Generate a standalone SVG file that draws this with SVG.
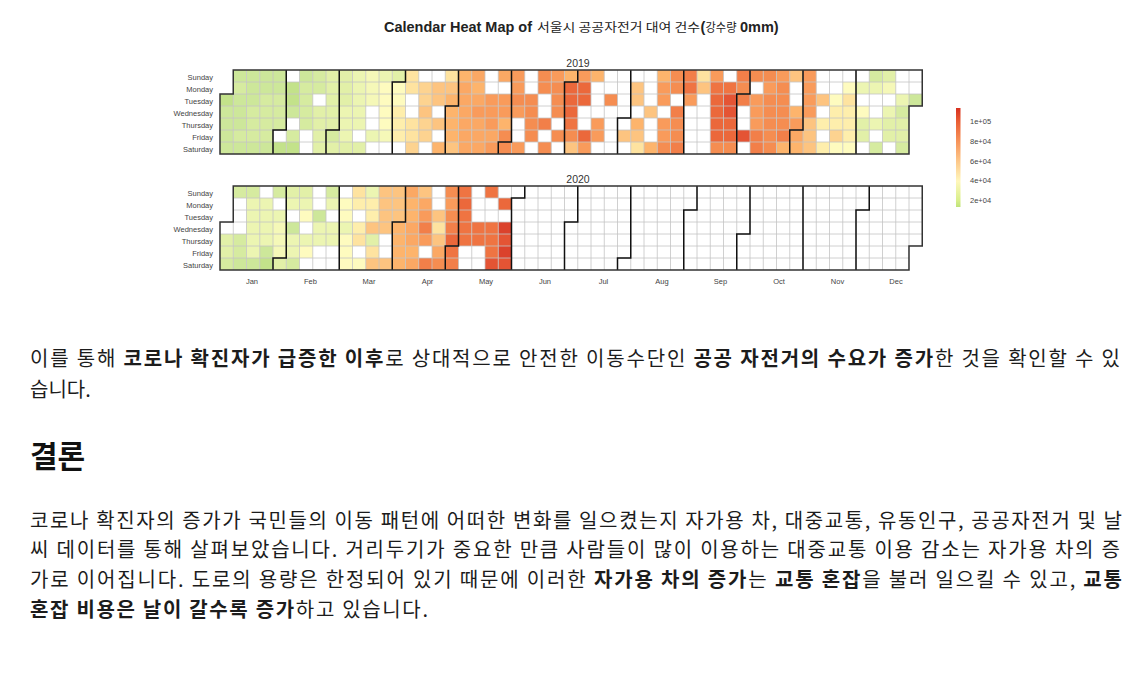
<svg xmlns="http://www.w3.org/2000/svg" width="1134" height="677" viewBox="0 0 1134 677">
<style>
.lbl{font-family:'Liberation Sans',Arial,sans-serif;font-size:7.5px;fill:#444}
.yr{font-family:'Liberation Sans',Arial,sans-serif;font-size:10.5px;fill:#333;text-anchor:middle}
.grid{fill:none;stroke:#c4c4c4;stroke-width:0.8}
.mon{fill:none;stroke:#111;stroke-width:1.5}
.outl{fill:none;stroke:#333;stroke-width:1.5}
.body{font-family:'Noto Sans CJK KR','Noto Sans',sans-serif;font-size:20px;fill:#1c1c1c}
.b{font-weight:bold}
.tl{font-family:'Liberation Sans',Arial,sans-serif;font-size:14.5px;font-weight:bold;fill:#222}
.tk{font-family:'Noto Sans CJK KR',sans-serif;font-size:12px;fill:#222}
</style>
<defs>
<rect id="a" width="13.25" height="12" fill="#c3e28a"/>
<rect id="b" width="13.25" height="12" fill="#cde79a"/>
<rect id="c" width="13.25" height="12" fill="#d6eba0"/>
<rect id="d" width="13.25" height="12" fill="#e2f0a8"/>
<rect id="e" width="13.25" height="12" fill="#ecf5b2"/>
<rect id="f" width="13.25" height="12" fill="#f5f8b8"/>
<rect id="g" width="13.25" height="12" fill="#fefbbf"/>
<rect id="h" width="13.25" height="12" fill="#feeeac"/>
<rect id="i" width="13.25" height="12" fill="#fee3a0"/>
<rect id="j" width="13.25" height="12" fill="#fdd390"/>
<rect id="k" width="13.25" height="12" fill="#fdc480"/>
<rect id="l" width="13.25" height="12" fill="#fdb46c"/>
<rect id="m" width="13.25" height="12" fill="#fba864"/>
<rect id="n" width="13.25" height="12" fill="#f99b5b"/>
<rect id="o" width="13.25" height="12" fill="#f58d51"/>
<rect id="p" width="13.25" height="12" fill="#f27f49"/>
<rect id="q" width="13.25" height="12" fill="#ef7442"/>
<rect id="r" width="13.25" height="12" fill="#eb683b"/>
<rect id="s" width="13.25" height="12" fill="#e45434"/>
<rect id="t" width="13.25" height="12" fill="#db422c"/>
<path id="gridpath" d="M233.25 0V84M246.5 0V84M259.75 0V84M273 0V84M286.25 0V84M299.5 0V84M312.75 0V84M326 0V84M339.25 0V84M352.5 0V84M365.75 0V84M379 0V84M392.25 0V84M405.5 0V84M418.75 0V84M432 0V84M445.25 0V84M458.5 0V84M471.75 0V84M485 0V84M498.25 0V84M511.5 0V84M524.75 0V84M538 0V84M551.25 0V84M564.5 0V84M577.75 0V84M591 0V84M604.25 0V84M617.5 0V84M630.75 0V84M644 0V84M657.25 0V84M670.5 0V84M683.75 0V84M697 0V84M710.25 0V84M723.5 0V84M736.75 0V84M750 0V84M763.25 0V84M776.5 0V84M789.75 0V84M803 0V84M816.25 0V84M829.5 0V84M842.75 0V84M856 0V84M869.25 0V84M882.5 0V84M895.75 0V84M909 0V84M220 12H922.25M220 24H922.25M220 36H922.25M220 48H922.25M220 60H922.25M220 72H922.25"/>
<clipPath id="clip19"><path d="M220 24H233.25V0H922.25V36H909V84H220Z"/></clipPath>
<clipPath id="clip20"><path d="M220 36H233.25V0H922.25V60H909V84H220Z"/></clipPath>
<linearGradient id="leg" x1="0" y1="0" x2="0" y2="1">
<stop offset="0" stop-color="#d7301f"/>
<stop offset="0.14" stop-color="#ea5f35"/>
<stop offset="0.34" stop-color="#f7945a"/>
<stop offset="0.54" stop-color="#fdc88a"/>
<stop offset="0.74" stop-color="#fff7bc"/>
<stop offset="0.93" stop-color="#d9ef8b"/>
<stop offset="1" stop-color="#bfe37a"/>
</linearGradient>
</defs>
<rect width="1134" height="677" fill="#fff"/>

<g id="title">
<text class="tl" x="384" y="31.7" textLength="148" lengthAdjust="spacingAndGlyphs">Calendar Heat Map of</text>
<text class="tk" x="537" y="31.7" textLength="163" lengthAdjust="spacingAndGlyphs">서울시 공공자전거 대여 건수</text>
<text class="tl" x="700.5" y="31.7">(</text>
<text class="tk" x="705.5" y="31.7" textLength="31" lengthAdjust="spacingAndGlyphs">강수량</text>
<text class="tl" x="740" y="31.7">0mm)</text>
</g>

<g id="year2019">
<text class="yr" x="578" y="66.7">2019</text>
<g class="lbl" text-anchor="end">
<text x="213" y="80">Sunday</text><text x="213" y="92">Monday</text><text x="213" y="104">Tuesday</text><text x="213" y="116">Wednesday</text><text x="213" y="128">Thursday</text><text x="213" y="140">Friday</text><text x="213" y="152">Saturday</text>
</g>
<g transform="translate(0 70)">
<path d="M220 24H233.25V0H922.25V36H909V84H220Z" fill="#fff"/>
<use href="#a" x="220" y="24"/><use href="#b" x="220" y="36"/><use href="#b" x="220" y="48"/><use href="#b" x="220" y="60"/><use href="#b" x="220" y="72"/>
<use href="#b" x="233.25" y="0"/><use href="#c" x="233.25" y="12"/><use href="#b" x="233.25" y="24"/><use href="#b" x="233.25" y="36"/><use href="#b" x="233.25" y="48"/><use href="#c" x="233.25" y="60"/><use href="#b" x="233.25" y="72"/>
<use href="#b" x="246.5" y="0"/><use href="#b" x="246.5" y="12"/><use href="#b" x="246.5" y="24"/><use href="#c" x="246.5" y="36"/><use href="#c" x="246.5" y="48"/><use href="#c" x="246.5" y="60"/><use href="#b" x="246.5" y="72"/>
<use href="#b" x="259.75" y="0"/><use href="#b" x="259.75" y="12"/><use href="#c" x="259.75" y="24"/><use href="#c" x="259.75" y="36"/><use href="#c" x="259.75" y="48"/><use href="#c" x="259.75" y="60"/><use href="#b" x="259.75" y="72"/>
<use href="#b" x="273" y="0"/><use href="#b" x="273" y="12"/><use href="#c" x="273" y="24"/><use href="#c" x="273" y="36"/><use href="#c" x="273" y="48"/><use href="#a" x="273" y="72"/>
<use href="#a" x="286.25" y="12"/><use href="#a" x="286.25" y="24"/><use href="#b" x="286.25" y="36"/><use href="#c" x="286.25" y="60"/><use href="#a" x="286.25" y="72"/>
<use href="#b" x="299.5" y="0"/><use href="#c" x="299.5" y="12"/><use href="#c" x="299.5" y="24"/><use href="#c" x="299.5" y="36"/><use href="#c" x="299.5" y="48"/>
<use href="#c" x="312.75" y="0"/><use href="#c" x="312.75" y="12"/><use href="#d" x="312.75" y="36"/><use href="#d" x="312.75" y="48"/><use href="#d" x="312.75" y="60"/><use href="#d" x="312.75" y="72"/>
<use href="#d" x="326" y="0"/><use href="#d" x="326" y="12"/><use href="#d" x="326" y="24"/><use href="#d" x="326" y="36"/><use href="#d" x="326" y="48"/><use href="#c" x="326" y="60"/><use href="#d" x="326" y="72"/>
<use href="#d" x="339.25" y="0"/><use href="#d" x="339.25" y="12"/><use href="#d" x="339.25" y="24"/><use href="#e" x="339.25" y="36"/><use href="#e" x="339.25" y="48"/><use href="#e" x="339.25" y="60"/><use href="#d" x="339.25" y="72"/>
<use href="#e" x="352.5" y="0"/><use href="#e" x="352.5" y="12"/><use href="#e" x="352.5" y="24"/><use href="#e" x="352.5" y="36"/><use href="#e" x="352.5" y="48"/><use href="#d" x="352.5" y="72"/>
<use href="#f" x="365.75" y="0"/><use href="#f" x="365.75" y="12"/><use href="#f" x="365.75" y="24"/><use href="#e" x="365.75" y="60"/>
<use href="#e" x="379" y="0"/><use href="#g" x="379" y="12"/><use href="#g" x="379" y="24"/><use href="#g" x="379" y="36"/><use href="#g" x="379" y="48"/><use href="#f" x="379" y="60"/>
<use href="#d" x="392.25" y="0"/><use href="#g" x="392.25" y="12"/><use href="#g" x="392.25" y="24"/><use href="#h" x="392.25" y="36"/><use href="#h" x="392.25" y="48"/><use href="#h" x="392.25" y="60"/>
<use href="#i" x="405.5" y="0"/><use href="#i" x="405.5" y="12"/><use href="#i" x="405.5" y="48"/><use href="#i" x="405.5" y="60"/><use href="#j" x="405.5" y="72"/>
<use href="#j" x="418.75" y="12"/><use href="#j" x="418.75" y="24"/><use href="#k" x="418.75" y="36"/><use href="#j" x="418.75" y="48"/><use href="#j" x="418.75" y="60"/>
<use href="#k" x="432" y="12"/><use href="#k" x="432" y="24"/><use href="#k" x="432" y="48"/><use href="#l" x="432" y="72"/>
<use href="#i" x="445.25" y="0"/><use href="#k" x="445.25" y="12"/><use href="#l" x="445.25" y="24"/><use href="#l" x="445.25" y="36"/><use href="#l" x="445.25" y="48"/><use href="#l" x="445.25" y="60"/><use href="#k" x="445.25" y="72"/>
<use href="#l" x="458.5" y="0"/><use href="#m" x="458.5" y="12"/><use href="#m" x="458.5" y="24"/><use href="#m" x="458.5" y="36"/><use href="#m" x="458.5" y="48"/><use href="#m" x="458.5" y="60"/><use href="#m" x="458.5" y="72"/>
<use href="#m" x="471.75" y="0"/><use href="#l" x="471.75" y="12"/><use href="#m" x="471.75" y="24"/><use href="#n" x="471.75" y="36"/><use href="#m" x="471.75" y="48"/><use href="#m" x="471.75" y="60"/><use href="#m" x="471.75" y="72"/>
<use href="#n" x="485" y="24"/><use href="#n" x="485" y="36"/><use href="#n" x="485" y="48"/><use href="#m" x="485" y="60"/><use href="#n" x="485" y="72"/>
<use href="#m" x="498.25" y="0"/><use href="#n" x="498.25" y="24"/><use href="#n" x="498.25" y="36"/><use href="#l" x="498.25" y="48"/><use href="#o" x="498.25" y="60"/><use href="#o" x="498.25" y="72"/>
<use href="#n" x="511.5" y="0"/><use href="#n" x="511.5" y="12"/><use href="#o" x="511.5" y="24"/><use href="#n" x="511.5" y="36"/><use href="#n" x="511.5" y="72"/>
<use href="#o" x="524.75" y="24"/><use href="#o" x="524.75" y="36"/><use href="#o" x="524.75" y="48"/><use href="#o" x="524.75" y="60"/>
<use href="#o" x="538" y="0"/><use href="#o" x="538" y="12"/><use href="#p" x="538" y="48"/><use href="#o" x="538" y="72"/>
<use href="#n" x="551.25" y="0"/><use href="#o" x="551.25" y="12"/><use href="#o" x="551.25" y="24"/><use href="#o" x="551.25" y="36"/><use href="#o" x="551.25" y="60"/>
<use href="#l" x="564.5" y="0"/><use href="#r" x="564.5" y="12"/><use href="#r" x="564.5" y="24"/><use href="#r" x="564.5" y="36"/><use href="#q" x="564.5" y="48"/><use href="#o" x="564.5" y="60"/><use href="#k" x="564.5" y="72"/>
<use href="#n" x="577.75" y="0"/><use href="#r" x="577.75" y="12"/><use href="#r" x="577.75" y="24"/><use href="#r" x="577.75" y="60"/><use href="#n" x="577.75" y="72"/>
<use href="#l" x="591" y="0"/><use href="#n" x="591" y="48"/><use href="#n" x="591" y="60"/>
<use href="#o" x="604.25" y="24"/>
<use href="#k" x="617.5" y="60"/>
<use href="#k" x="630.75" y="12"/><use href="#k" x="630.75" y="24"/><use href="#l" x="630.75" y="48"/><use href="#k" x="630.75" y="60"/><use href="#i" x="630.75" y="72"/>
<use href="#k" x="644" y="36"/><use href="#l" x="644" y="72"/>
<use href="#l" x="657.25" y="0"/><use href="#n" x="657.25" y="12"/><use href="#n" x="657.25" y="24"/><use href="#n" x="657.25" y="48"/><use href="#n" x="657.25" y="60"/><use href="#o" x="657.25" y="72"/>
<use href="#o" x="670.5" y="0"/><use href="#o" x="670.5" y="12"/><use href="#p" x="670.5" y="36"/><use href="#o" x="670.5" y="48"/><use href="#o" x="670.5" y="60"/><use href="#p" x="670.5" y="72"/>
<use href="#p" x="683.75" y="0"/><use href="#q" x="683.75" y="12"/><use href="#n" x="683.75" y="24"/>
<use href="#i" x="697" y="0"/><use href="#k" x="697" y="12"/>
<use href="#n" x="710.25" y="0"/><use href="#q" x="710.25" y="12"/><use href="#r" x="710.25" y="24"/><use href="#r" x="710.25" y="36"/><use href="#r" x="710.25" y="48"/><use href="#r" x="710.25" y="60"/><use href="#o" x="710.25" y="72"/>
<use href="#q" x="723.5" y="12"/><use href="#s" x="723.5" y="24"/><use href="#s" x="723.5" y="36"/><use href="#r" x="723.5" y="48"/><use href="#r" x="723.5" y="60"/><use href="#o" x="723.5" y="72"/>
<use href="#p" x="736.75" y="0"/><use href="#o" x="736.75" y="12"/><use href="#p" x="736.75" y="24"/><use href="#s" x="736.75" y="60"/>
<use href="#o" x="750" y="0"/><use href="#n" x="750" y="24"/><use href="#n" x="750" y="36"/><use href="#n" x="750" y="48"/><use href="#p" x="750" y="60"/><use href="#p" x="750" y="72"/>
<use href="#o" x="763.25" y="0"/><use href="#n" x="763.25" y="12"/><use href="#o" x="763.25" y="24"/><use href="#o" x="763.25" y="36"/><use href="#o" x="763.25" y="48"/><use href="#o" x="763.25" y="60"/><use href="#o" x="763.25" y="72"/>
<use href="#n" x="776.5" y="0"/><use href="#o" x="776.5" y="12"/><use href="#o" x="776.5" y="24"/><use href="#o" x="776.5" y="36"/><use href="#o" x="776.5" y="48"/><use href="#p" x="776.5" y="60"/><use href="#l" x="776.5" y="72"/>
<use href="#k" x="789.75" y="0"/><use href="#l" x="789.75" y="36"/><use href="#n" x="789.75" y="48"/><use href="#m" x="789.75" y="60"/><use href="#l" x="789.75" y="72"/>
<use href="#n" x="803" y="0"/><use href="#n" x="803" y="12"/><use href="#n" x="803" y="24"/><use href="#n" x="803" y="36"/><use href="#k" x="803" y="48"/><use href="#k" x="803" y="60"/><use href="#k" x="803" y="72"/>
<use href="#k" x="816.25" y="24"/><use href="#h" x="816.25" y="48"/><use href="#h" x="816.25" y="72"/>
<use href="#g" x="829.5" y="24"/><use href="#h" x="829.5" y="36"/><use href="#h" x="829.5" y="48"/><use href="#j" x="829.5" y="60"/><use href="#g" x="829.5" y="72"/>
<use href="#g" x="842.75" y="12"/><use href="#i" x="842.75" y="24"/><use href="#h" x="842.75" y="36"/><use href="#h" x="842.75" y="48"/><use href="#h" x="842.75" y="60"/><use href="#g" x="842.75" y="72"/>
<use href="#e" x="856" y="12"/><use href="#g" x="856" y="36"/><use href="#d" x="856" y="48"/><use href="#d" x="856" y="60"/>
<use href="#c" x="869.25" y="0"/><use href="#e" x="869.25" y="12"/><use href="#e" x="869.25" y="48"/><use href="#c" x="869.25" y="72"/>
<use href="#d" x="882.5" y="0"/><use href="#f" x="882.5" y="12"/><use href="#e" x="882.5" y="36"/><use href="#d" x="882.5" y="48"/><use href="#d" x="882.5" y="60"/>
<use href="#e" x="895.75" y="24"/><use href="#c" x="895.75" y="36"/><use href="#d" x="895.75" y="48"/><use href="#d" x="895.75" y="60"/><use href="#c" x="895.75" y="72"/>
<use href="#b" x="909" y="24"/>
<use href="#gridpath" class="grid" clip-path="url(#clip19)"/>
<path class="mon" d="M286.25 0V60H273V84M339.25 0V60H326V84M405.5 0V12H392.25V84M458.5 0V36H445.25V84M511.5 0V72H498.25V84M577.75 0V12H564.5V84M630.75 0V48H617.5V84M683.75 0V84M750 0V24H736.75V84M803 0V60H789.75V84M856 0V84"/>
<path class="outl" d="M220 24H233.25V0H922.25V36H909V84H220Z"/>
</g>
</g>

<g id="year2020">
<text class="yr" x="578" y="182.7">2020</text>
<g class="lbl" text-anchor="end">
<text x="213" y="196">Sunday</text><text x="213" y="208">Monday</text><text x="213" y="220">Tuesday</text><text x="213" y="232">Wednesday</text><text x="213" y="244">Thursday</text><text x="213" y="256">Friday</text><text x="213" y="268">Saturday</text>
</g>
<g transform="translate(0 186)">
<path d="M220 36H233.25V0H922.25V60H909V84H220Z" fill="#fff"/>
<use href="#d" x="220" y="48"/><use href="#d" x="220" y="60"/><use href="#c" x="220" y="72"/>
<use href="#c" x="233.25" y="0"/><use href="#c" x="233.25" y="48"/><use href="#c" x="233.25" y="60"/><use href="#b" x="233.25" y="72"/>
<use href="#c" x="246.5" y="0"/><use href="#e" x="246.5" y="12"/><use href="#e" x="246.5" y="24"/><use href="#e" x="246.5" y="36"/><use href="#e" x="246.5" y="48"/><use href="#e" x="246.5" y="60"/><use href="#b" x="246.5" y="72"/>
<use href="#e" x="259.75" y="12"/><use href="#e" x="259.75" y="24"/><use href="#e" x="259.75" y="36"/><use href="#e" x="259.75" y="48"/><use href="#b" x="259.75" y="60"/><use href="#a" x="259.75" y="72"/>
<use href="#c" x="273" y="0"/><use href="#e" x="273" y="24"/><use href="#f" x="273" y="36"/><use href="#f" x="273" y="48"/><use href="#f" x="273" y="60"/><use href="#d" x="273" y="72"/>
<use href="#d" x="286.25" y="0"/><use href="#e" x="286.25" y="12"/><use href="#b" x="286.25" y="36"/><use href="#e" x="286.25" y="48"/><use href="#e" x="286.25" y="60"/><use href="#c" x="286.25" y="72"/>
<use href="#d" x="299.5" y="0"/><use href="#e" x="299.5" y="12"/><use href="#g" x="299.5" y="24"/><use href="#e" x="299.5" y="48"/><use href="#g" x="299.5" y="60"/>
<use href="#b" x="312.75" y="24"/><use href="#e" x="312.75" y="36"/><use href="#e" x="312.75" y="48"/>
<use href="#c" x="326" y="0"/><use href="#e" x="326" y="12"/><use href="#e" x="326" y="36"/><use href="#e" x="326" y="48"/>
<use href="#g" x="339.25" y="12"/><use href="#g" x="339.25" y="24"/><use href="#e" x="339.25" y="36"/><use href="#g" x="339.25" y="48"/><use href="#g" x="339.25" y="60"/><use href="#g" x="339.25" y="72"/>
<use href="#i" x="352.5" y="0"/><use href="#h" x="352.5" y="12"/><use href="#h" x="352.5" y="36"/><use href="#i" x="352.5" y="48"/><use href="#g" x="352.5" y="72"/>
<use href="#e" x="365.75" y="0"/><use href="#h" x="365.75" y="12"/><use href="#h" x="365.75" y="24"/><use href="#k" x="365.75" y="36"/><use href="#d" x="365.75" y="48"/><use href="#i" x="365.75" y="60"/><use href="#k" x="365.75" y="72"/>
<use href="#k" x="379" y="0"/><use href="#k" x="379" y="12"/><use href="#k" x="379" y="24"/><use href="#k" x="379" y="36"/><use href="#k" x="379" y="72"/>
<use href="#k" x="392.25" y="0"/><use href="#k" x="392.25" y="12"/><use href="#k" x="392.25" y="24"/><use href="#l" x="392.25" y="36"/><use href="#l" x="392.25" y="48"/><use href="#l" x="392.25" y="60"/><use href="#l" x="392.25" y="72"/>
<use href="#m" x="405.5" y="0"/><use href="#l" x="405.5" y="12"/><use href="#l" x="405.5" y="24"/><use href="#m" x="405.5" y="36"/><use href="#m" x="405.5" y="48"/><use href="#l" x="405.5" y="60"/><use href="#m" x="405.5" y="72"/>
<use href="#k" x="418.75" y="0"/><use href="#m" x="418.75" y="12"/><use href="#n" x="418.75" y="24"/><use href="#p" x="418.75" y="36"/><use href="#n" x="418.75" y="48"/><use href="#p" x="418.75" y="72"/>
<use href="#k" x="432" y="24"/><use href="#i" x="432" y="36"/><use href="#k" x="432" y="48"/><use href="#m" x="432" y="60"/><use href="#o" x="432" y="72"/>
<use href="#o" x="445.25" y="0"/><use href="#n" x="445.25" y="12"/><use href="#o" x="445.25" y="24"/><use href="#p" x="445.25" y="36"/><use href="#r" x="445.25" y="48"/><use href="#q" x="445.25" y="60"/><use href="#p" x="445.25" y="72"/>
<use href="#q" x="458.5" y="0"/><use href="#r" x="458.5" y="12"/><use href="#q" x="458.5" y="24"/><use href="#q" x="458.5" y="36"/><use href="#q" x="458.5" y="48"/>
<use href="#q" x="471.75" y="36"/><use href="#q" x="471.75" y="48"/>
<use href="#q" x="485" y="0"/><use href="#q" x="485" y="36"/><use href="#q" x="485" y="48"/><use href="#q" x="485" y="60"/><use href="#s" x="485" y="72"/>
<use href="#r" x="498.25" y="12"/><use href="#t" x="498.25" y="36"/><use href="#s" x="498.25" y="48"/><use href="#t" x="498.25" y="60"/><use href="#s" x="498.25" y="72"/>
<use href="#gridpath" class="grid" clip-path="url(#clip20)"/>
<path class="mon" d="M286.25 0V72H273V84M339.25 0V84M405.5 0V36H392.25V84M458.5 0V60H445.25V84M524.75 0V12H511.5V84M577.75 0V36H564.5V84M630.75 0V72H617.5V84M697 0V24H683.75V84M750 0V48H736.75V84M803 0V84M869.25 0V24H856V84"/>
<path class="outl" d="M220 36H233.25V0H922.25V60H909V84H220Z"/>
</g>
<g class="lbl" text-anchor="middle">
<text x="252" y="284">Jan</text><text x="310.5" y="284">Feb</text><text x="369" y="284">Mar</text><text x="427.5" y="284">Apr</text><text x="486" y="284">May</text><text x="545" y="284">Jun</text><text x="603.5" y="284">Jul</text><text x="662" y="284">Aug</text><text x="720.5" y="284">Sep</text><text x="779" y="284">Oct</text><text x="837.5" y="284">Nov</text><text x="896" y="284">Dec</text>
</g>
</g>

<g id="legend">
<rect x="956" y="108" width="4.5" height="99" fill="url(#leg)"/>
<g class="lbl" font-size="7px">
<text x="970" y="124.3">1e+05</text><text x="970" y="144">8e+04</text><text x="970" y="163.6">6e+04</text><text x="970" y="183.2">4e+04</text><text x="970" y="202.8">2e+04</text>
</g>
</g>

<g id="connectors"></g>

<g id="text">
<text class="body" x="30" y="365.5" textLength="1090" lengthAdjust="spacing">이를 통해 <tspan class="b">코로나 확진자가 급증한 이후</tspan>로 상대적으로 안전한 이동수단인 <tspan class="b">공공 자전거의 수요가 증가</tspan>한 것을 확인할 수 있</text>
<text class="body" x="30" y="396.5">습니다.</text>
<text x="30" y="466.5" font-family="'Noto Sans CJK KR','Noto Sans',sans-serif" font-size="30" font-weight="bold" fill="#111">결론</text>
<text class="body" x="30" y="527.5" textLength="1092" lengthAdjust="spacing">코로나 확진자의 증가가 국민들의 이동 패턴에 어떠한 변화를 일으켰는지 자가용 차, 대중교통, 유동인구, 공공자전거 및 날</text>
<text class="body" x="30" y="557" textLength="1090" lengthAdjust="spacing">씨 데이터를 통해 살펴보았습니다. 거리두기가 중요한 만큼 사람들이 많이 이용하는 대중교통 이용 감소는 자가용 차의 증</text>
<text class="body" x="30" y="587" textLength="1092" lengthAdjust="spacing">가로 이어집니다. 도로의 용량은 한정되어 있기 때문에 이러한 <tspan class="b">자가용 차의 증가</tspan>는 <tspan class="b">교통 혼잡</tspan>을 불러 일으킬 수 있고, <tspan class="b">교통</tspan></text>
<text class="body" x="30" y="617" textLength="398" lengthAdjust="spacing"><tspan class="b">혼잡 비용은 날이 갈수록 증가</tspan>하고 있습니다.</text>
</g>
</svg>
